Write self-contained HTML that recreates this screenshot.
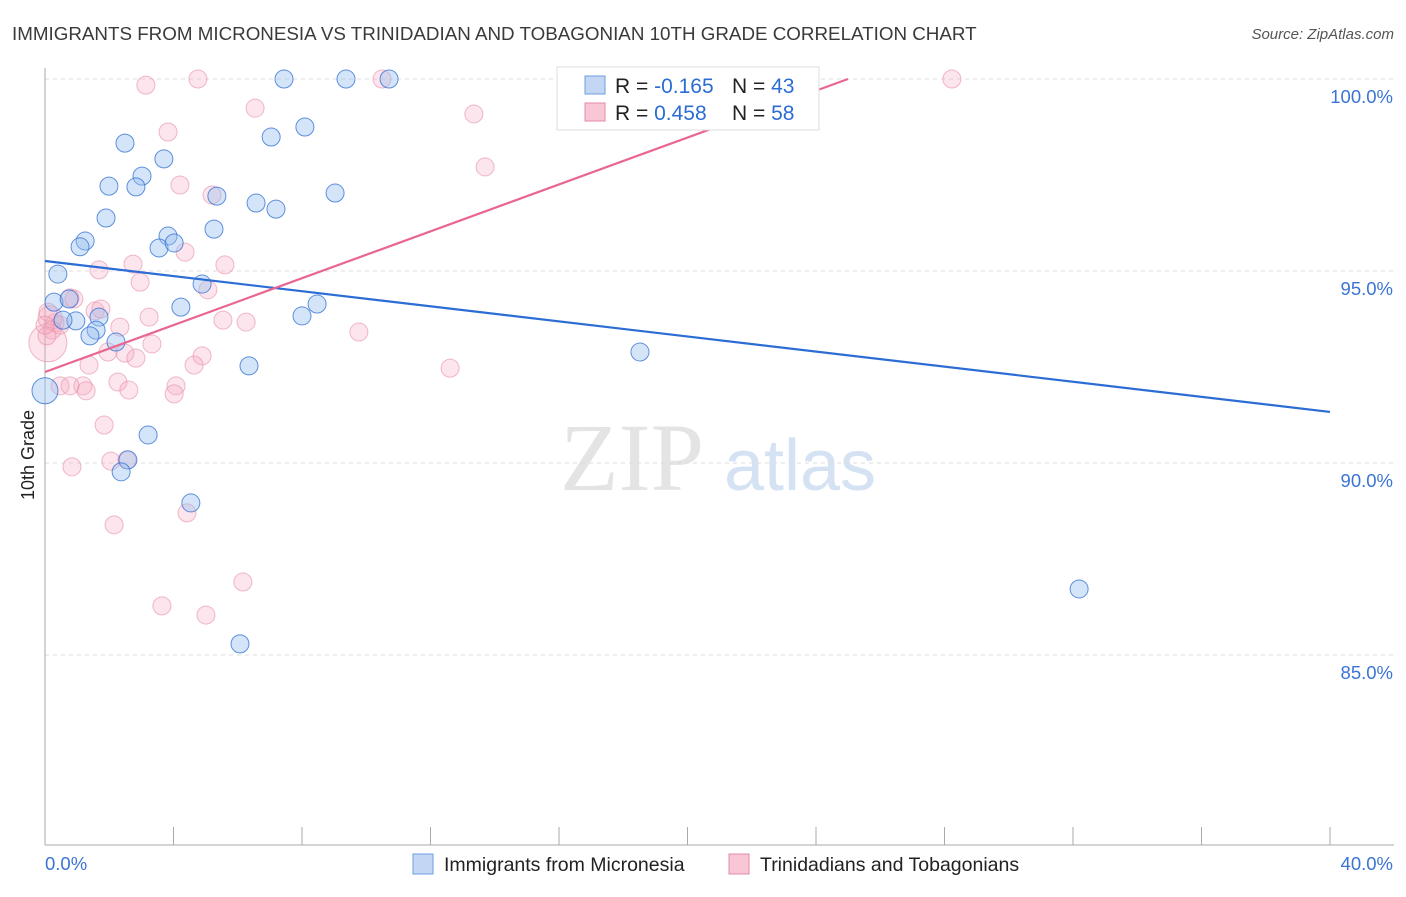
<!DOCTYPE html>
<html><head><meta charset="utf-8"><style>
body{margin:0;background:#fff;font-family:"Liberation Sans",sans-serif;}
</style></head><body>
<svg id="chart" width="1406" height="892" xmlns="http://www.w3.org/2000/svg">
<text x="12" y="40" font-size="18.8" fill="#3a3a3a">IMMIGRANTS FROM MICRONESIA VS TRINIDADIAN AND TOBAGONIAN 10TH GRADE CORRELATION CHART</text>
<text x="1394" y="39" font-size="15" fill="#555" font-style="italic" text-anchor="end">Source: ZipAtlas.com</text>
<text x="632" y="490" font-size="96" fill="#e4e4e4" font-family="Liberation Serif,serif" text-anchor="middle">ZIP</text>
<text x="800" y="490" font-size="72" fill="#d5e2f3" text-anchor="middle">atlas</text>
<g id="grid"></g><g id="marks"></g>
<text transform="translate(34,455) rotate(-90)" font-size="18" fill="#222" text-anchor="middle">10th Grade</text>
<g>
<rect x="557" y="67" width="262" height="63" fill="#fff" stroke="#ddd"/>
<rect x="585" y="76" width="20" height="18" fill="#c3d7f5" stroke="#6c9de0"/>
<rect x="585" y="103" width="20" height="18" fill="#f8c6d4" stroke="#e48ba6"/>
<text x="615" y="93" font-size="21" fill="#222">R = <tspan fill="#2b6dd4">-0.165</tspan><tspan x="732">N = </tspan><tspan fill="#2b6dd4">43</tspan></text>
<text x="615" y="120" font-size="21" fill="#222">R = <tspan fill="#2b6dd4"> 0.458</tspan><tspan x="732">N = </tspan><tspan fill="#2b6dd4">58</tspan></text>
</g>
<g>
<rect x="413" y="854" width="20" height="20" fill="#c3d7f5" stroke="#6c9de0"/>
<text x="444" y="871" font-size="19.5" fill="#222">Immigrants from Micronesia</text>
<rect x="729" y="854" width="20" height="20" fill="#f8c6d4" stroke="#e48ba6"/>
<text x="760" y="871" font-size="19.5" fill="#222">Trinidadians and Tobagonians</text>
</g>
</svg>
<script>
const xTickLabels=["0.0%","40.0%"];
const yTicks=[100,95,90,85];
const blueX=[...[[284,79],[346,79],[389,79],[125,143],[271,137],[305,127],[164,159],[142,176],[109,186],[136,187],[335,193],[217,196],[256,203],[276,209],[106,217],[214,227],[168,234],[85,239],[80,245],[159,246],[174,241],[58,272],[202,282],[54,300],[69,297],[181,305],[317,302],[302,314],[76,319],[99,315],[96,328],[90,334],[116,340],[249,364],[640,348],[45,391],[148,435],[128,460],[121,472],[191,503],[1079,589],[240,644],[63,318]].map(p=>+((p[0]-45)/1285*40).toFixed(2))];
const blueY=[100,100,100,98.33,98.49,98.75,97.92,97.47,97.21,97.19,97.03,96.95,96.77,96.61,96.38,96.09,95.91,95.78,95.63,95.60,95.73,94.92,94.66,94.19,94.27,94.06,94.14,93.83,93.70,93.80,93.46,93.31,93.15,92.53,92.89,91.88,90.73,90.08,89.77,88.96,86.72,85.29,93.72];
const blueR=blueY.map((v,i)=>i===35?13:9);
const pinkPix=[[146,85],[198,79],[382,79],[952,79],[255,108],[474,114],[168,132],[485,167],[180,185],[212,195],[185,252],[99,270],[133,264],[225,265],[140,282],[208,290],[70,298],[74,299],[95,311],[101,309],[149,317],[223,320],[246,322],[359,332],[120,327],[55,323],[60,325],[152,344],[108,352],[125,353],[136,358],[202,356],[194,365],[89,365],[450,368],[118,382],[83,386],[129,390],[60,386],[70,386],[86,391],[176,386],[174,394],[104,425],[72,467],[111,461],[127,460],[187,513],[114,525],[243,582],[162,606],[206,615],[50,318],[52,330],[48,312],[48,343],[47,336],[45,325]];
const pinkX=pinkPix.map(p=>+((p[0]-45)/1285*40).toFixed(2));
const pinkY=pinkPix.map(p=>+(100-(p[1]-79)/192*5).toFixed(2));
const pinkR=pinkPix.map((p,i)=>i===55?19:(i===52?12:9));
const blueTrend=[95.26,91.33];
const pinkTrend=[92.37,104.58];
const X0=45,X1=1330,Y100=79,PX=192/5;
const sx=v=>X0+(v/40)*(X1-X0);
const sy=v=>Y100+(100-v)*PX;
const NS="http://www.w3.org/2000/svg";
function mk(t,a,parent){const e=document.createElementNS(NS,t);for(const k in a)e.setAttribute(k,a[k]);parent.appendChild(e);return e;}
const grid=document.getElementById('grid'),marks=document.getElementById('marks');
yTicks.forEach(v=>{const l=mk('line',{x1:X0,x2:1394,y1:sy(v),y2:sy(v),stroke:'#ddd','stroke-dasharray':'4,4'},grid);


const t=mk('text',{x:1393,y:sy(v)+24,'font-size':18.5,fill:'#3b74d6','text-anchor':'end'},grid);t.textContent=v.toFixed(1)+'%';

});
const ax=mk('line',{x1:X0,x2:X0,y1:68,y2:845,stroke:'#aaa'},grid);


const xa=mk('line',{x1:X0,x2:1394,y1:845,y2:845,stroke:'#aaa'},grid);


for(let i=0;i<=10;i++){const t=mk('line',{x1:sx(i*4),x2:sx(i*4),y1:827,y2:845,stroke:'#aaa'},grid);

}
[[0,'start',45],[40,'end',1393]].forEach((d,i)=>{const t=mk('text',{x:d[2],y:870,'font-size':18.5,fill:'#3b74d6','text-anchor':d[1]},grid);t.textContent=xTickLabels[i];

});
pinkX.forEach((x,i)=>{const c=mk('circle',{cx:sx(x),cy:sy(pinkY[i]),r:pinkR[i],fill:'rgba(244,170,192,0.3)',stroke:'rgba(230,140,168,0.6)','stroke-width':1},marks);

});
blueX.forEach((x,i)=>{const c=mk('circle',{cx:sx(x),cy:sy(blueY[i]),r:blueR[i],fill:'rgba(150,190,240,0.4)',stroke:'rgba(45,110,210,0.75)','stroke-width':1},marks);

});
const bl=mk('line',{x1:sx(0),y1:sy(blueTrend[0]),x2:sx(40),y2:sy(blueTrend[1]),stroke:'#2b6dd4','stroke-width':2.2},marks);


const slope=(pinkTrend[1]-pinkTrend[0])/40, xEnd=Math.min(40,(100-pinkTrend[0])/slope);
const pl=mk('line',{x1:sx(0),y1:sy(pinkTrend[0]),x2:sx(xEnd),y2:sy(pinkTrend[0]+slope*xEnd),stroke:'#e8668f','stroke-width':2.2},marks);


</script>
</body></html>
